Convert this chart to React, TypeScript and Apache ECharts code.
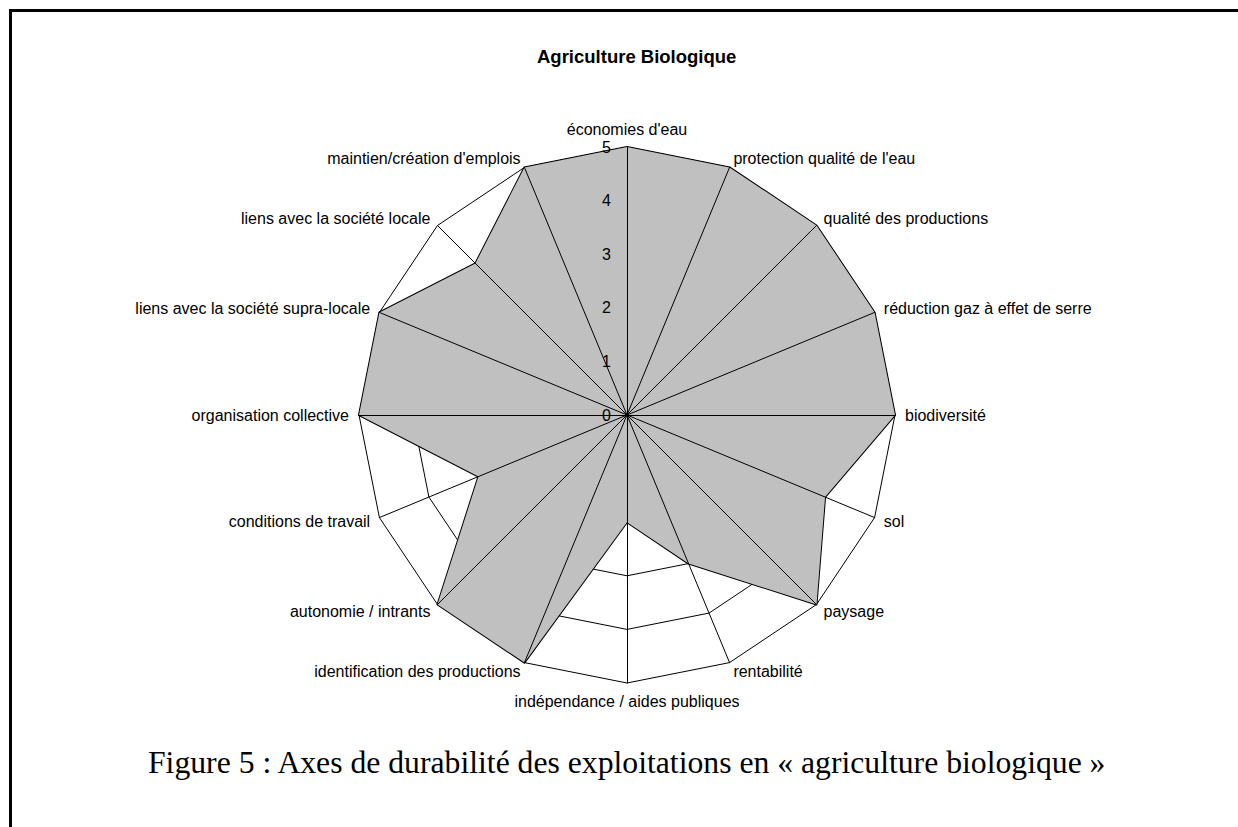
import React, { useEffect, useRef } from "react";
import * as echarts from "echarts";

const TITLE = "Agriculture Biologique";
const CAPTION = "Figure 5 : Axes de durabilité des exploitations en « agriculture biologique »";

// clockwise from the top
const CATEGORIES = [
  "économies d'eau",
  "protection qualité de l'eau",
  "qualité des productions",
  "réduction gaz à effet de serre",
  "biodiversité",
  "sol",
  "paysage",
  "rentabilité",
  "indépendance / aides publiques",
  "identification des productions",
  "autonomie / intrants",
  "conditions de travail",
  "organisation collective",
  "liens avec la société supra-locale",
  "liens avec la société locale",
  "maintien/création d'emplois",
];
const VALUES = [5, 5, 5, 5, 5, 4, 5, 3, 2, 5, 5, 3, 5, 5, 4, 5];
const AXIS_MIN = 0;
const AXIS_MAX = 5;
const TICK_INTERVAL = 1;

// ECharts lays indicators out counter-clockwise: reorder
function toCCW<T>(arr: T[]): T[] {
  return [arr[0], ...arr.slice(1).reverse()];
}

export default function App() {
  const ref = useRef<HTMLDivElement>(null);
  useEffect(() => {
    if (!ref.current) return;
    const chart = echarts.init(ref.current, null, { renderer: "svg" });
    const cats = toCCW(CATEGORIES);
    const vals = toCCW(VALUES);
    const font = "Arial, 'Liberation Sans', sans-serif";
    const common = {
      center: [627, 415],
      radius: 268,
      startAngle: 90,
      shape: "polygon",
      splitNumber: (AXIS_MAX - AXIS_MIN) / TICK_INTERVAL,
      nameGap: 10,
      splitArea: { show: false },
      axisTick: { show: false },
    };
    chart.setOption({
      animation: false,
      backgroundColor: "#ffffff",
      title: {
        text: TITLE,
        left: 532,
        top: 42,
        textStyle: { fontFamily: font, fontSize: 18.5, fontWeight: "bold", color: "#000" },
      },
      graphic: [
        {
          type: "rect",
          shape: { x: 10.5, y: 10.5, width: 1300, height: 900 },
          style: { fill: "none", stroke: "#000", lineWidth: 3 },
          silent: true,
        },
        {
          type: "text",
          left: 148,
          top: 746,
          style: {
            text: CAPTION,
            font: "31.7px 'Times New Roman', 'Liberation Serif', serif",
            fill: "#000",
          },
        },
      ],
      radar: [
        {
          ...common,
          z: 0,
          axisName: { show: false },
          axisLine: { show: false },
          splitLine: { lineStyle: { color: "#000", width: 1 } },
          axisLabel: { show: false },
          indicator: cats.map((c) => ({ name: c, min: AXIS_MIN, max: AXIS_MAX })),
        },
        {
          ...common,
          z: 5,
          axisName: { color: "#000", fontFamily: font, fontSize: 16 },
          axisLine: { lineStyle: { color: "#000", width: 1 } },
          splitLine: { show: false },
          axisLabel: { show: false },
          indicator: cats.map((c, i) => ({
            name: c,
            min: AXIS_MIN,
            max: AXIS_MAX,
            ...(i === 0
              ? {
                  axisLabel: {
                    show: true,
                    color: "#000",
                    fontFamily: font,
                    fontSize: 16,
                    margin: 16,
                  },
                }
              : {}),
          })),
        },
      ],
      series: [
        {
          type: "radar",
          radarIndex: 0,
          symbol: "none",
          lineStyle: { color: "#000", width: 2 },
          areaStyle: { color: "#c0c0c0", opacity: 1 },
          data: [{ value: vals, name: TITLE }],
          z: 2,
        },
      ],
    });
    return () => chart.dispose();
  }, []);
  return (
    <div
      ref={ref}
      style={{ position: "absolute", left: 0, top: 0, width: 1238, height: 827 }}
    />
  );
}
